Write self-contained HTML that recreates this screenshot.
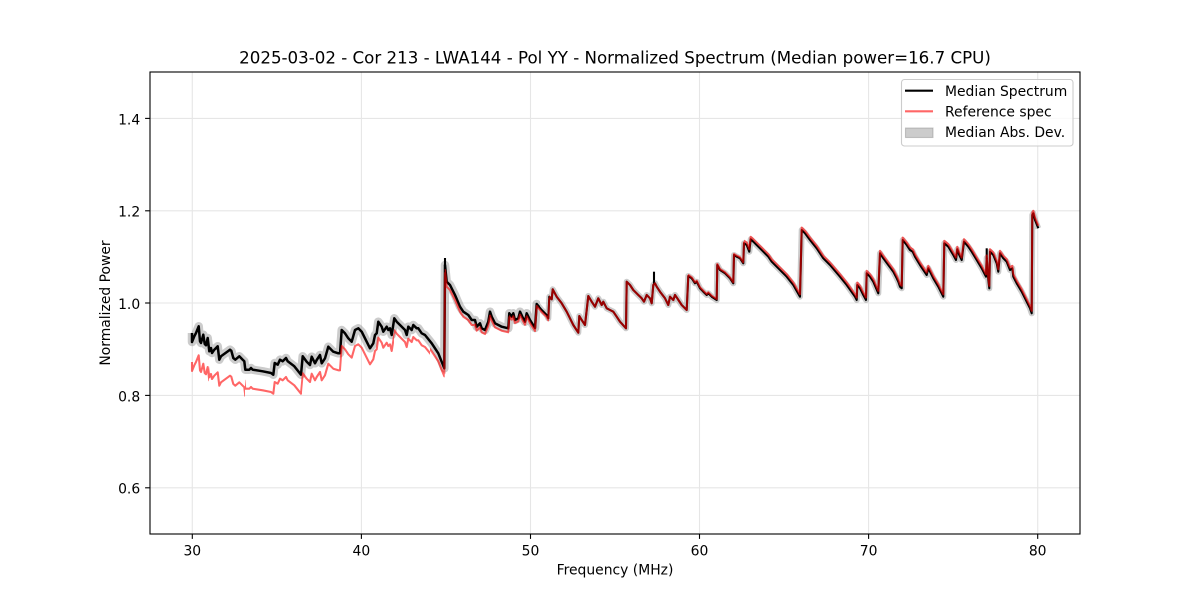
<!DOCTYPE html>
<html>
<head>
<meta charset="utf-8">
<style>
html,body{margin:0;padding:0;background:#fff;}
svg{display:block;}
text{font-family:"DejaVu Sans","Liberation Sans",sans-serif;fill:#000;}
</style>
</head>
<body>
<svg width="1200" height="600" viewBox="0 0 1200 600" xmlns="http://www.w3.org/2000/svg">
<defs>
<path id="base" fill="none" d="M192,333 L192,342 194.3,336.3 196,333 198.7,326.3 200,341.3 201,343 203.3,334.7 204.7,344 206,345.3 207.7,338 209.3,351.3 211,348 212,353 214.3,349.7 217.7,346.3 219.3,359.7 221,356.3 230,349.7 231.3,350.7 233.3,358 235.3,359.7 239.3,356.3 242.7,359.7 244.3,361.3 245.3,369.7 249.3,369.7 251,368 252.7,369.7 262.7,371.3 271,373 273.3,374.7 274.7,363 277.7,364.7 280,359.7 282.7,361.3 286,358 287.7,361.3 294.3,366.3 301,374.7 302.7,356.3 306.7,361.7 310,365 311.7,356.7 315,363.3 316.7,360 320,355 321.7,363.3 325,358.3 328.3,346.7 333.3,351.7 338.3,353.3 340,353.3 341.7,330 345,333.3 348.3,338.3 351.7,341.7 355,330 358.3,328.3 361.7,331.7 365,338.3 370,348.3 373.3,343.3 375,335 376.7,333.3 378.3,321.7 381.7,326.7 383.3,331.7 386.7,326.7 388.3,330 390,328.3 391.7,335 394.3,318.3 396.7,321.7 400,325 405,330 406.7,335 408.3,326.7 411.7,330 413.3,325 416.7,328.3 418.3,328.3 421.7,333.3 425,335 431.7,343.3 438.3,353.3 444.3,368.3 445,265 446.7,281.7 450,285 455,295 460,306.7 463.3,311.7 468.3,315 471.7,320 475,320 476.7,326.7 480,323.3 481.7,328.3 485,330 488.3,321.7 490,311.7 491.7,316.7 495,323.3 498.3,325 501.7,326.7 508.3,328.3 509.3,313.3 511.7,316.7 513.3,313.3 515,320 518.3,318.3 520,311.7 522.3,316.7 525,321.7 526.7,313.3 530,320 535,328 536.7,304 541.7,310 546.7,315 548.3,318.3 549.3,296.7 551.7,299.3 552.7,289.3 556.7,296.7 561.7,303.3 566.7,311.7 573.3,325 578.3,332.7 579.3,316 581.7,320 585,325 588.3,296 591.7,301.7 595,306.7 598.3,298.3 601.7,305 603.3,301.7 606.7,308.3 610,310 613.3,311.7 616.7,316.7 620,321.7 626,328.3 626.7,281.7 630,285 633.3,290 638.3,295 641.7,298.3 644,301.7 646.7,295 650,298.3 651.7,303.3 653.3,285 655,283.3 656.7,286.7 660,291.7 665,298.3 668.3,305 670,296.7 673.3,300 675,295 677.3,298.3 681.7,305 686.7,310 688.3,276 691.7,278.3 695,283.3 696.7,281.7 700,288.3 703.3,291.7 706.7,295 708.3,293.3 711.7,296.7 716.7,300 717.3,265 720,270 725,273.3 730,278.3 733.3,283.3 734,255 736.7,256.7 740,258.3 743.3,263.3 744,243.3 746.7,245 749.3,251.7 750.7,239.3 753.3,241.7 758.3,246.7 763.3,251.7 768.3,256.7 771.7,261.7 778.3,268.3 786.7,276.7 793.3,285 800,296.7 801.7,230 805,233.3 810,240 816.7,248.3 823.3,258.3 830,265 840,276.7 846.7,285 855,296.7 856.7,300 857.3,285 860,288.3 863.3,295 866,300 866.7,273.3 870,276.7 873.3,281.7 878.3,293.3 880,253.3 883.3,258.3 888.3,265 893.3,271.7 896.7,278.3 898.3,281.7 900,286.7 901.7,288.3 902.7,240 906.7,245 910,250 912.7,251.7 915,256.7 920,265 926.7,275 928.3,268.3 930,271.7 933.3,278.3 938.3,286.7 943.3,296.7 944.3,243.3 948.3,246.7 953.3,255 956,260 957.3,249.3 959.3,255 961.7,260 964,241.7 968.3,246.7 971.7,251.7 976.7,260 981.7,268.3 986,276.7 986.7,258 988.3,280 989.3,288.3 990,251.7 993.3,255 996.7,263.3 998.3,271.7 1000,253.3 1003.3,258.3 1006.7,261.7 1010,270 1012.3,268.3 1013.3,276.7 1016.7,283.3 1021.7,291.7 1025,298.3 1030,308.3 1031.7,313.3 1032.3,215 1033.3,213.3 1035,220 1038.3,228.3"/>
<clipPath id="cl" clipPathUnits="userSpaceOnUse"><rect x="150" y="-200" width="390" height="1000"/></clipPath>
<clipPath id="cr" clipPathUnits="userSpaceOnUse"><rect x="540" y="-200" width="540" height="1000"/></clipPath>
<clipPath id="c1" clipPathUnits="userSpaceOnUse"><rect x="150" y="-200" width="59" height="1000"/></clipPath>
<clipPath id="c2" clipPathUnits="userSpaceOnUse"><rect x="209" y="-200" width="36" height="1000"/></clipPath>
<clipPath id="c3" clipPathUnits="userSpaceOnUse"><rect x="245" y="-200" width="57" height="1000"/></clipPath>
<clipPath id="c4" clipPathUnits="userSpaceOnUse"><rect x="302" y="-200" width="39" height="1000"/></clipPath>
<clipPath id="c5" clipPathUnits="userSpaceOnUse"><rect x="341" y="-200" width="53" height="1000"/></clipPath>
<clipPath id="c6" clipPathUnits="userSpaceOnUse"><rect x="394" y="-200" width="36" height="1000"/></clipPath>
<clipPath id="c7" clipPathUnits="userSpaceOnUse"><rect x="430" y="-200" width="14.7" height="1000"/></clipPath>
<clipPath id="c8" clipPathUnits="userSpaceOnUse"><rect x="444.7" y="-200" width="30.3" height="1000"/></clipPath>
<clipPath id="c9" clipPathUnits="userSpaceOnUse"><rect x="475" y="-200" width="34" height="1000"/></clipPath>
<clipPath id="c10" clipPathUnits="userSpaceOnUse"><rect x="509" y="-200" width="27" height="1000"/></clipPath>
<clipPath id="c11" clipPathUnits="userSpaceOnUse"><rect x="536" y="-200" width="13" height="1000"/></clipPath>
<clipPath id="c12" clipPathUnits="userSpaceOnUse"><rect x="549" y="-200" width="139" height="1000"/></clipPath>
<clipPath id="c13" clipPathUnits="userSpaceOnUse"><rect x="688" y="-200" width="56" height="1000"/></clipPath>
<clipPath id="c14" clipPathUnits="userSpaceOnUse"><rect x="744" y="-200" width="336" height="1000"/></clipPath>
</defs>

<rect x="0" y="0" width="1200" height="600" fill="#fff"/>

<!-- grid -->
<g stroke="#e6e6e6" stroke-width="1.1">
<line x1="192.3" y1="72" x2="192.3" y2="534"/>
<line x1="361.4" y1="72" x2="361.4" y2="534"/>
<line x1="530.5" y1="72" x2="530.5" y2="534"/>
<line x1="699.5" y1="72" x2="699.5" y2="534"/>
<line x1="868.6" y1="72" x2="868.6" y2="534"/>
<line x1="1037.7" y1="72" x2="1037.7" y2="534"/>
<line x1="150" y1="118.4" x2="1080" y2="118.4"/>
<line x1="150" y1="210.8" x2="1080" y2="210.8"/>
<line x1="150" y1="303" x2="1080" y2="303"/>
<line x1="150" y1="395.4" x2="1080" y2="395.4"/>
<line x1="150" y1="487.8" x2="1080" y2="487.8"/>
</g>

<!-- MAD band -->
<g clip-path="url(#cl)"><use href="#base" stroke="#808080" stroke-opacity="0.4" stroke-width="8.5" stroke-linejoin="round" fill="none"/></g>
<g clip-path="url(#cr)"><use href="#base" stroke="#808080" stroke-opacity="0.4" stroke-width="6" stroke-linejoin="round" fill="none"/></g>

<!-- median spectrum -->
<g clip-path="url(#cl)"><use href="#base" stroke="#000" stroke-width="2.5" stroke-linejoin="round" fill="none"/></g>
<g clip-path="url(#cr)"><use href="#base" stroke="#000" stroke-width="2.08" stroke-linejoin="round" fill="none"/></g>
<g stroke="#000" stroke-width="2.08">
<line x1="445" y1="266" x2="445" y2="258"/>
<line x1="654" y1="285" x2="654" y2="271.7"/>
<line x1="986.7" y1="259" x2="986.7" y2="248.3"/>
</g>

<!-- reference spectrum -->
<g stroke="#ff0000" stroke-opacity="0.6" stroke-width="2.08" stroke-linejoin="round" fill="none">
<g clip-path="url(#c1)"><use href="#base" transform="translate(0,29)"/></g>
<g clip-path="url(#c2)"><use href="#base" transform="translate(0,26)"/></g>
<g clip-path="url(#c3)"><use href="#base" transform="translate(0,19)"/></g>
<g clip-path="url(#c4)"><use href="#base" transform="translate(0,17)"/></g>
<g clip-path="url(#c5)"><use href="#base" transform="translate(0,16)"/></g>
<g clip-path="url(#c6)"><use href="#base" transform="translate(0,12)"/></g>
<g clip-path="url(#c7)"><use href="#base" transform="translate(0,8)"/></g>
<g clip-path="url(#c8)"><use href="#base" transform="translate(0,5)"/></g>
<g clip-path="url(#c9)"><use href="#base" transform="translate(0,4)"/></g>
<g clip-path="url(#c10)"><use href="#base" transform="translate(0,3)"/></g>
<g clip-path="url(#c11)"><use href="#base" transform="translate(0,2)"/></g>
<g clip-path="url(#c12)"><use href="#base" transform="translate(0,0)"/></g>
<g clip-path="url(#c13)"><use href="#base" transform="translate(0,-1)"/></g>
<g clip-path="url(#c14)"><use href="#base" transform="translate(0,-2.5)"/></g>
</g>

<!-- axes frame -->
<rect x="150" y="72" width="930" height="462" fill="none" stroke="#000" stroke-width="1.1"/>

<!-- ticks -->
<g stroke="#000" stroke-width="1.1">
<line x1="192.3" y1="534" x2="192.3" y2="538.9"/>
<line x1="361.4" y1="534" x2="361.4" y2="538.9"/>
<line x1="530.5" y1="534" x2="530.5" y2="538.9"/>
<line x1="699.5" y1="534" x2="699.5" y2="538.9"/>
<line x1="868.6" y1="534" x2="868.6" y2="538.9"/>
<line x1="1037.7" y1="534" x2="1037.7" y2="538.9"/>
<line x1="145.1" y1="118.4" x2="150" y2="118.4"/>
<line x1="145.1" y1="210.8" x2="150" y2="210.8"/>
<line x1="145.1" y1="303" x2="150" y2="303"/>
<line x1="145.1" y1="395.4" x2="150" y2="395.4"/>
<line x1="145.1" y1="487.8" x2="150" y2="487.8"/>
</g>

<!-- tick labels -->
<g font-size="13.9" text-anchor="middle">
<text x="192.3" y="555.7">30</text>
<text x="361.4" y="555.7">40</text>
<text x="530.5" y="555.7">50</text>
<text x="699.5" y="555.7">60</text>
<text x="868.6" y="555.7">70</text>
<text x="1037.7" y="555.7">80</text>
</g>
<g font-size="13.9" text-anchor="end">
<text x="140.2" y="124.3">1.4</text>
<text x="140.2" y="216.7">1.2</text>
<text x="140.2" y="308.9">1.0</text>
<text x="140.2" y="401.3">0.8</text>
<text x="140.2" y="493.7">0.6</text>
</g>

<!-- axis labels -->
<text x="615" y="574.3" font-size="13.9" text-anchor="middle">Frequency (MHz)</text>
<text transform="translate(110,303) rotate(-90)" font-size="13.9" text-anchor="middle">Normalized Power</text>

<!-- title -->
<text x="615" y="63.3" font-size="16.67" text-anchor="middle">2025-03-02 - Cor 213 - LWA144 - Pol YY - Normalized Spectrum (Median power=16.7 CPU)</text>

<!-- legend -->
<rect x="901.5" y="79.5" width="171.5" height="66.5" rx="3" ry="3" fill="#fff" fill-opacity="0.8" stroke="#cccccc" stroke-width="1.1"/>
<line x1="905" y1="90.7" x2="933" y2="90.7" stroke="#000" stroke-width="2.08"/>
<line x1="905" y1="111.3" x2="933" y2="111.3" stroke="#ff0000" stroke-opacity="0.6" stroke-width="2.08"/>
<rect x="905.5" y="128" width="27.5" height="9.5" fill="#808080" fill-opacity="0.4" stroke="#808080" stroke-opacity="0.4" stroke-width="1.1"/>
<g font-size="13.9">
<text x="945" y="96">Median Spectrum</text>
<text x="945" y="116.7">Reference spec</text>
<text x="945" y="137">Median Abs. Dev.</text>
</g>
</svg>
</body>
</html>
